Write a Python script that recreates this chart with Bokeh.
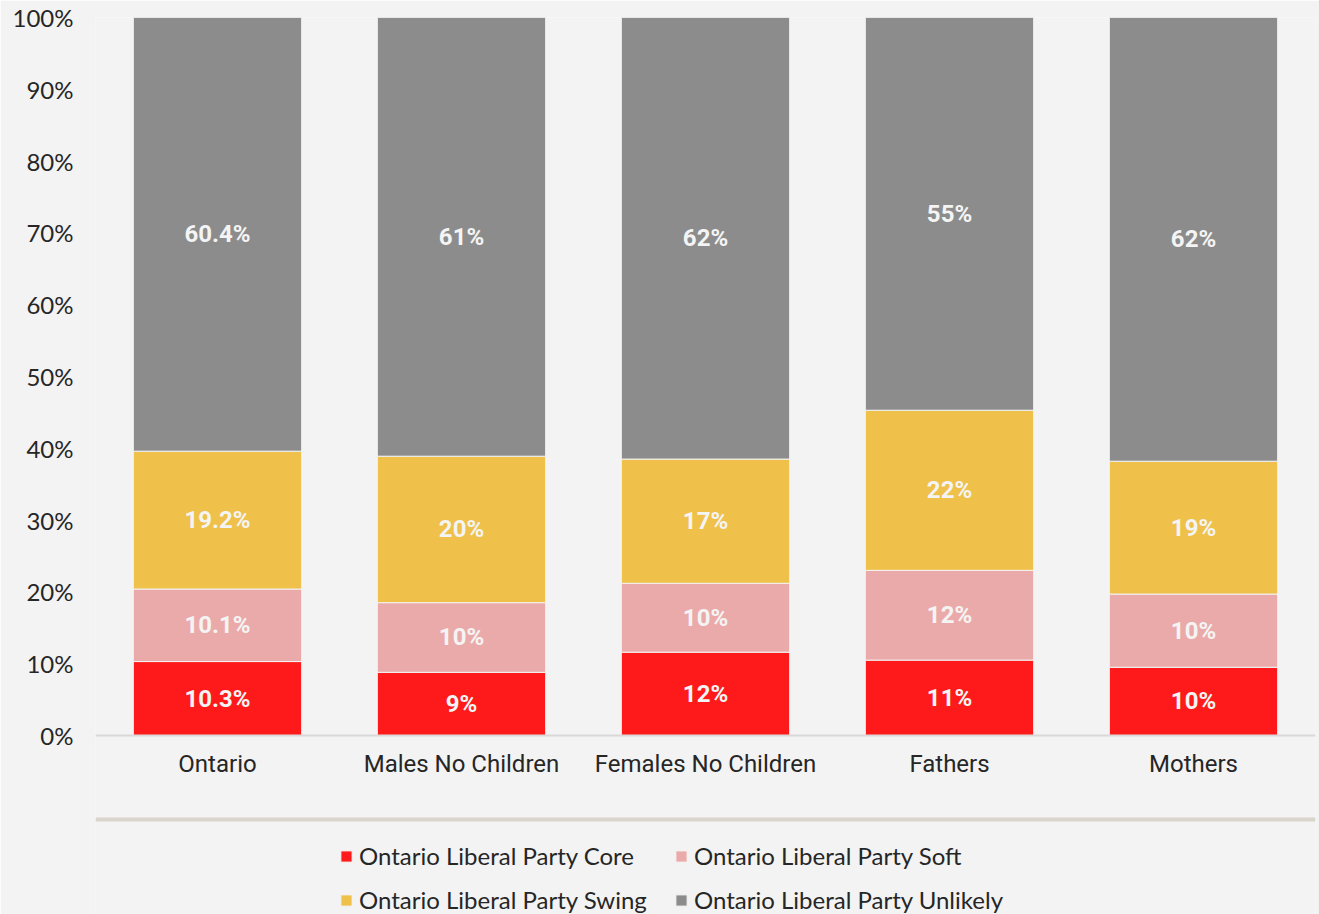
from bokeh.plotting import figure
from bokeh.models import Range1d, FactorRange, FixedTicker, PrintfTickFormatter, Legend, LegendItem, Span, ColumnDataSource
from bokeh.core.properties import value
from bokeh.embed import file_html
from bokeh.resources import INLINE

categories = ["Ontario", "Males No Children", "Females No Children", "Fathers", "Mothers"]
series = ["Ontario Liberal Party Core", "Ontario Liberal Party Soft",
          "Ontario Liberal Party Swing", "Ontario Liberal Party Unlikely"]
core = [10.3, 8.8, 11.6, 10.5, 9.5]
soft = [10.1, 9.7, 9.6, 12.5, 10.2]
swing = [19.2, 20.4, 17.3, 22.3, 18.5]
unlikely = [60.4, 61.1, 61.5, 54.7, 61.8]
core_labels = ["10.3%", "9%", "12%", "11%", "10%"]
soft_labels = ["10.1%", "10%", "10%", "12%", "10%"]
swing_labels = ["19.2%", "20%", "17%", "22%", "19%"]
unlikely_labels = ["60.4%", "61%", "62%", "55%", "62%"]
y_ticks = [0, 10, 20, 30, 40, 50, 60, 70, 80, 90, 100]

colors = ["#fe1a1a", "#ebaaaa", "#efc04a", "#8c8c8c"]
BG = "#f3f3f3"

keys = ["core", "soft", "swing", "unlikely"]
src = ColumnDataSource(dict(cat=categories, core=core, soft=soft, swing=swing, unlikely=unlikely))

p = figure(x_range=FactorRange(*categories, range_padding=0), y_range=Range1d(-24.93, 100),
           width=1319, height=914, output_backend="svg", toolbar_location=None,
           min_border_left=95, min_border_right=4, min_border_top=17, min_border_bottom=0)
p.background_fill_color = BG
p.border_fill_color = BG
p.outline_line_color = None
p.xgrid.visible = False
p.ygrid.visible = False

rends = p.vbar_stack(keys, x="cat", width=0.69, source=src, color=colors,
                     line_color=BG, line_width=1)

# data labels
all_vals = [core, soft, swing, unlikely]
all_labels = [core_labels, soft_labels, swing_labels, unlikely_labels]
for i in range(4):
    mids = []
    for j in range(len(categories)):
        base = sum(all_vals[k][j] for k in range(i))
        mids.append(base + all_vals[i][j] / 2)
    p.text(x=categories, y=mids, text=all_labels[i], text_align="center", text_baseline="middle",
           text_font=value("Roboto"), text_font_style="bold", text_font_size="24px", text_color="#f4f4f4")

# y axis
p.yaxis.ticker = FixedTicker(ticks=y_ticks)
p.yaxis.formatter = PrintfTickFormatter(format="%d%%")
p.yaxis.axis_line_color = None
p.yaxis.major_tick_line_color = None
p.yaxis.major_tick_out = 0
p.yaxis.minor_tick_line_color = None
p.yaxis.minor_tick_out = 0
p.yaxis.major_label_standoff = 22
p.yaxis.major_label_text_font = "Lato"
p.yaxis.major_label_text_font_size = "24px"
p.yaxis.major_label_text_color = "#262626"

# x axis
p.xaxis.fixed_location = 0
p.xaxis.axis_line_color = "#d9d9d9"
p.xaxis.axis_line_width = 2
p.xaxis.major_tick_line_color = None
p.xaxis.major_tick_out = 0
p.xaxis.minor_tick_line_color = None
p.xaxis.minor_tick_out = 0
p.xaxis.major_label_standoff = 14
p.xaxis.major_label_text_font = "Roboto"
p.xaxis.major_label_text_font_size = "24px"
p.xaxis.major_label_text_color = "#262626"

# separator
p.add_layout(Span(location=-11.7, dimension="width", line_color="#d9d4cc", line_width=4))

order = [0, 2, 1, 3]
legend = Legend(items=[LegendItem(label=series[i], renderers=[rends[i]]) for i in order],
                location=(244, 0), ncols=2, orientation="vertical",
                glyph_width=14, glyph_height=14, label_standoff=6, spacing=15, padding=0, margin=0,
                label_width=300, label_height=24,
                label_text_font="Lato", label_text_font_size="24px", label_text_color="#262626",
                border_line_alpha=0, background_fill_alpha=0)
p.add_layout(legend, "center")

open("out.html", "w").write(file_html(p, INLINE))
